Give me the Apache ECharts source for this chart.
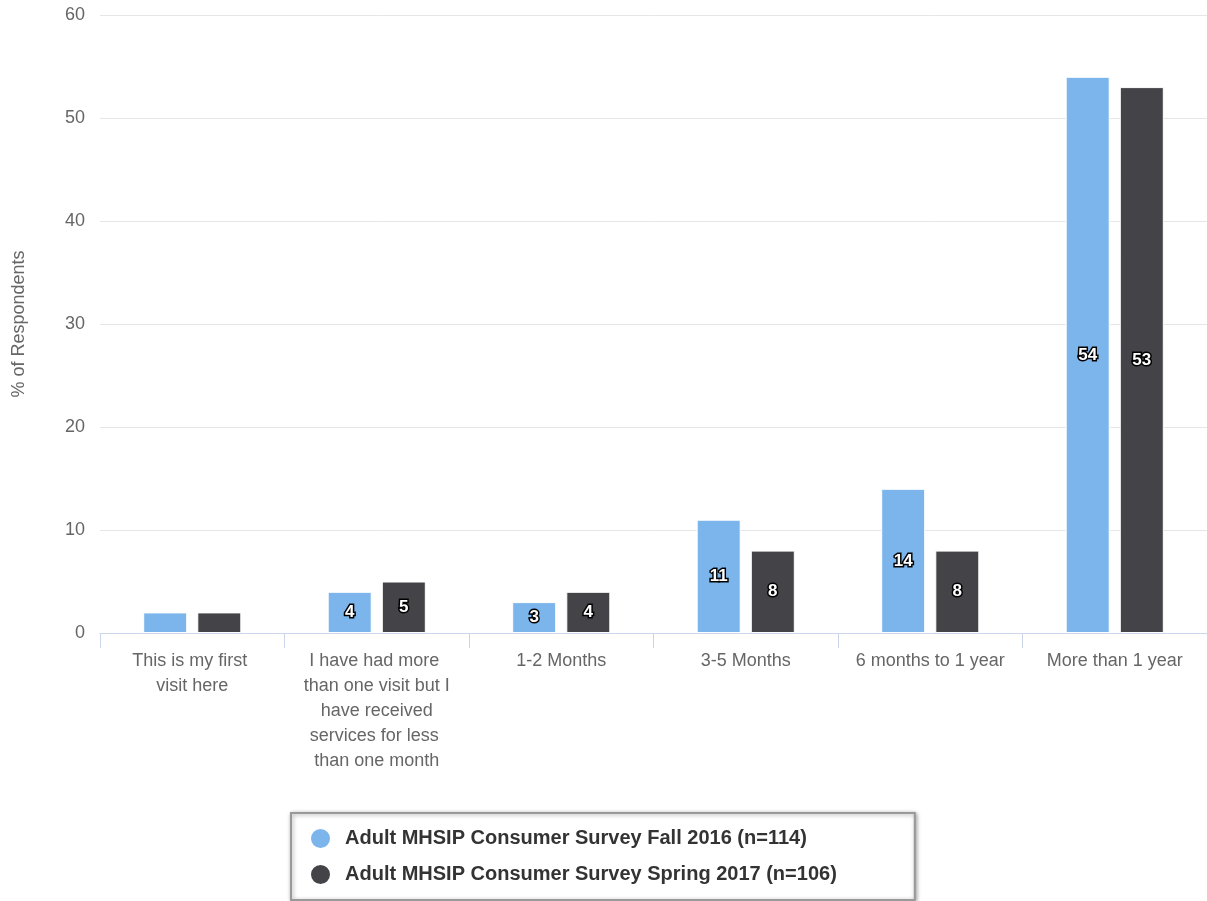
<!DOCTYPE html>
<html><head><meta charset="utf-8">
<script src="https://cdn.jsdelivr.net/npm/echarts@6/dist/echarts.min.js"></script>
<style>html,body{margin:0;padding:0;background:#fff}#c{width:1207px;height:901px}</style>
</head><body><div id="c"></div>
<script>
var categories = ["This is my first visit here", "I have had more than one visit but I have received services for less than one month", "1-2 Months", "3-5 Months", "6 months to 1 year", "More than 1 year"];
var fall2016 = [2, 4, 3, 11, 14, 54];
var spring2017 = [2, 5, 4, 8, 8, 53];
var seriesNames = ["Adult MHSIP Consumer Survey Fall 2016 (n=114)", "Adult MHSIP Consumer Survey Spring 2017 (n=106)"];
var yTicks = [0, 10, 20, 30, 40, 50, 60];
var yAxisTitle = "% of Respondents";

var font = "'Liberation Sans', Arial, sans-serif";
var chart = echarts.init(document.getElementById('c'));
var labelCfg = {
  show: true, position: 'inside', color: '#fff', fontWeight: 'bold', fontSize: 17,
  fontFamily: font, textBorderColor: '#000', textBorderWidth: 3,
  formatter: function (p) { return p.value >= 3 ? p.value : ''; }
};
chart.setOption({
  animation: false,
  textStyle: { fontFamily: font },
  grid: { left: 100, right: 0, top: 15, bottom: 268, containLabel: false, outerBoundsMode: 'none' },
  legend: {
    orient: 'vertical', left: 291, top: 813,
    padding: [14, 78, 14, 18],
    itemWidth: 21, itemHeight: 21, itemGap: 13, icon: 'circle',
    borderColor: '#999', borderWidth: 2, borderRadius: 0,
    backgroundColor: '#fff',
    shadowBlur: 4, shadowColor: 'rgba(0,0,0,0.35)', shadowOffsetX: 1, shadowOffsetY: 1,
    textStyle: { fontSize: 20, fontWeight: 'bold', color: '#333', fontFamily: font, padding: [0, 0, 0, 9] },
    data: seriesNames
  },
  xAxis: {
    type: 'category', data: categories,
    axisLine: { lineStyle: { color: '#ccd6eb', width: 1 } },
    axisTick: { show: true, length: 15, lineStyle: { color: '#ccd6eb' } },
    axisLabel: { color: '#666', fontSize: 18, width: 150, overflow: 'break', lineHeight: 25, margin: 16, interval: 0, fontFamily: font }
  },
  yAxis: {
    type: 'value', min: yTicks[0], max: yTicks[yTicks.length - 1], interval: 10,
    name: yAxisTitle, nameLocation: 'middle', nameGap: 72, nameRotate: 90,
    nameTextStyle: { color: '#666', fontSize: 18, fontFamily: font },
    axisLine: { show: false }, axisTick: { show: false },
    axisLabel: { color: '#666', fontSize: 18, margin: 15, fontFamily: font },
    splitLine: { lineStyle: { color: '#e6e6e6' } }
  },
  series: [
    { name: seriesNames[0], type: 'bar', data: fall2016, barWidth: 44, barGap: '23%',
      itemStyle: { color: '#7cb5ec', borderColor: '#fff', borderWidth: 1 }, label: labelCfg },
    { name: seriesNames[1], type: 'bar', data: spring2017, barWidth: 44,
      itemStyle: { color: '#434348', borderColor: '#fff', borderWidth: 1 }, label: labelCfg }
  ]
});
</script></body></html>
